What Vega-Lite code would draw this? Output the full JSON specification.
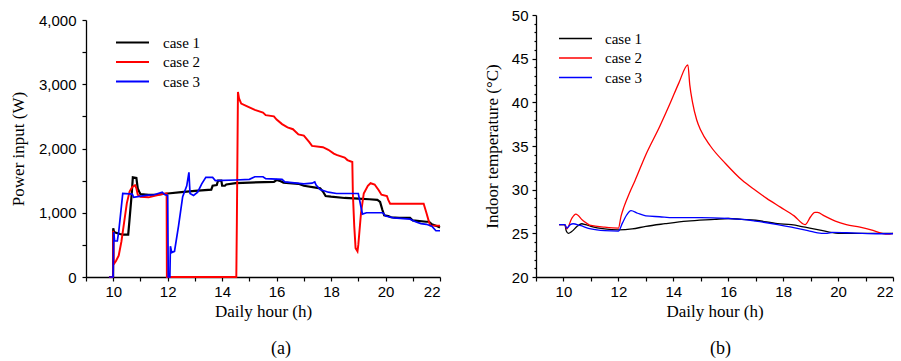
{
  "$schema": "https://vega.github.io/schema/vega-lite/v6.json",
  "padding": {"left": 9, "top": 8, "right": 1, "bottom": 5},
  "background": "white",
  "bounds": "flush",
  "spacing": 96,
  "datasets": {
    "power": [
      {"hour": 9.85, "case": "case 1", "value": 0}, {"hour": 9.995, "case": "case 1", "value": 0}, {"hour": 10.0, "case": "case 1", "value": 760}, {"hour": 10.03, "case": "case 1", "value": 700}, {"hour": 10.1, "case": "case 1", "value": 690}, {"hour": 10.25, "case": "case 1", "value": 670}, {"hour": 10.35, "case": "case 1", "value": 660}, {"hour": 10.55, "case": "case 1", "value": 660}, {"hour": 10.6, "case": "case 1", "value": 900}, {"hour": 10.68, "case": "case 1", "value": 1300}, {"hour": 10.72, "case": "case 1", "value": 1550}, {"hour": 10.85, "case": "case 1", "value": 1540}, {"hour": 10.9, "case": "case 1", "value": 1380}, {"hour": 10.95, "case": "case 1", "value": 1330}, {"hour": 11.0, "case": "case 1", "value": 1290}, {"hour": 11.3, "case": "case 1", "value": 1280}, {"hour": 11.6, "case": "case 1", "value": 1280}, {"hour": 12.0, "case": "case 1", "value": 1300}, {"hour": 12.5, "case": "case 1", "value": 1320}, {"hour": 13.0, "case": "case 1", "value": 1340}, {"hour": 13.6, "case": "case 1", "value": 1360}, {"hour": 13.65, "case": "case 1", "value": 1420}, {"hour": 13.8, "case": "case 1", "value": 1430}, {"hour": 13.85, "case": "case 1", "value": 1500}, {"hour": 13.97, "case": "case 1", "value": 1500}, {"hour": 14.0, "case": "case 1", "value": 1420}, {"hour": 14.1, "case": "case 1", "value": 1420}, {"hour": 14.15, "case": "case 1", "value": 1440}, {"hour": 14.5, "case": "case 1", "value": 1460}, {"hour": 15.0, "case": "case 1", "value": 1470}, {"hour": 15.9, "case": "case 1", "value": 1480}, {"hour": 16.0, "case": "case 1", "value": 1510}, {"hour": 16.15, "case": "case 1", "value": 1490}, {"hour": 16.25, "case": "case 1", "value": 1470}, {"hour": 16.8, "case": "case 1", "value": 1450}, {"hour": 17.0, "case": "case 1", "value": 1420}, {"hour": 17.6, "case": "case 1", "value": 1380}, {"hour": 17.7, "case": "case 1", "value": 1330}, {"hour": 17.8, "case": "case 1", "value": 1260}, {"hour": 18.0, "case": "case 1", "value": 1250}, {"hour": 18.5, "case": "case 1", "value": 1230}, {"hour": 19.0, "case": "case 1", "value": 1220}, {"hour": 19.4, "case": "case 1", "value": 1210}, {"hour": 19.7, "case": "case 1", "value": 1200}, {"hour": 19.8, "case": "case 1", "value": 1170}, {"hour": 19.88, "case": "case 1", "value": 1050}, {"hour": 19.95, "case": "case 1", "value": 960}, {"hour": 20.1, "case": "case 1", "value": 950}, {"hour": 20.2, "case": "case 1", "value": 930}, {"hour": 20.5, "case": "case 1", "value": 920}, {"hour": 20.9, "case": "case 1", "value": 920}, {"hour": 21.0, "case": "case 1", "value": 880}, {"hour": 21.5, "case": "case 1", "value": 860}, {"hour": 21.6, "case": "case 1", "value": 860}, {"hour": 21.7, "case": "case 1", "value": 820}, {"hour": 21.9, "case": "case 1", "value": 790}, {"hour": 22.0, "case": "case 1", "value": 770},
      {"hour": 9.85, "case": "case 2", "value": 0}, {"hour": 9.995, "case": "case 2", "value": 0}, {"hour": 10.0, "case": "case 2", "value": 720}, {"hour": 10.02, "case": "case 2", "value": 200}, {"hour": 10.1, "case": "case 2", "value": 250}, {"hour": 10.2, "case": "case 2", "value": 330}, {"hour": 10.3, "case": "case 2", "value": 550}, {"hour": 10.4, "case": "case 2", "value": 850}, {"hour": 10.5, "case": "case 2", "value": 1150}, {"hour": 10.6, "case": "case 2", "value": 1330}, {"hour": 10.7, "case": "case 2", "value": 1400}, {"hour": 10.8, "case": "case 2", "value": 1430}, {"hour": 10.85, "case": "case 2", "value": 1380}, {"hour": 10.9, "case": "case 2", "value": 1280}, {"hour": 11.0, "case": "case 2", "value": 1250}, {"hour": 11.3, "case": "case 2", "value": 1240}, {"hour": 11.6, "case": "case 2", "value": 1270}, {"hour": 11.8, "case": "case 2", "value": 1290}, {"hour": 11.96, "case": "case 2", "value": 1300}, {"hour": 11.97, "case": "case 2", "value": 0}, {"hour": 14.52, "case": "case 2", "value": 0}, {"hour": 14.54, "case": "case 2", "value": 850}, {"hour": 14.58, "case": "case 2", "value": 2880}, {"hour": 14.62, "case": "case 2", "value": 2780}, {"hour": 14.7, "case": "case 2", "value": 2700}, {"hour": 14.9, "case": "case 2", "value": 2660}, {"hour": 15.2, "case": "case 2", "value": 2600}, {"hour": 15.5, "case": "case 2", "value": 2560}, {"hour": 15.6, "case": "case 2", "value": 2520}, {"hour": 15.9, "case": "case 2", "value": 2500}, {"hour": 16.0, "case": "case 2", "value": 2450}, {"hour": 16.2, "case": "case 2", "value": 2380}, {"hour": 16.4, "case": "case 2", "value": 2330}, {"hour": 16.6, "case": "case 2", "value": 2300}, {"hour": 16.8, "case": "case 2", "value": 2220}, {"hour": 17.0, "case": "case 2", "value": 2200}, {"hour": 17.2, "case": "case 2", "value": 2100}, {"hour": 17.3, "case": "case 2", "value": 2040}, {"hour": 17.7, "case": "case 2", "value": 2020}, {"hour": 17.9, "case": "case 2", "value": 1980}, {"hour": 18.1, "case": "case 2", "value": 1920}, {"hour": 18.2, "case": "case 2", "value": 1900}, {"hour": 18.5, "case": "case 2", "value": 1860}, {"hour": 18.6, "case": "case 2", "value": 1820}, {"hour": 18.78, "case": "case 2", "value": 1790}, {"hour": 18.8, "case": "case 2", "value": 1300}, {"hour": 18.85, "case": "case 2", "value": 800}, {"hour": 18.9, "case": "case 2", "value": 450}, {"hour": 18.97, "case": "case 2", "value": 400}, {"hour": 19.0, "case": "case 2", "value": 500}, {"hour": 19.1, "case": "case 2", "value": 1000}, {"hour": 19.2, "case": "case 2", "value": 1300}, {"hour": 19.35, "case": "case 2", "value": 1420}, {"hour": 19.45, "case": "case 2", "value": 1460}, {"hour": 19.6, "case": "case 2", "value": 1440}, {"hour": 19.75, "case": "case 2", "value": 1350}, {"hour": 19.85, "case": "case 2", "value": 1280}, {"hour": 20.05, "case": "case 2", "value": 1260}, {"hour": 20.1, "case": "case 2", "value": 1200}, {"hour": 20.17, "case": "case 2", "value": 1140}, {"hour": 20.5, "case": "case 2", "value": 1140}, {"hour": 21.0, "case": "case 2", "value": 1140}, {"hour": 21.4, "case": "case 2", "value": 1140}, {"hour": 21.5, "case": "case 2", "value": 1000}, {"hour": 21.6, "case": "case 2", "value": 850}, {"hour": 21.65, "case": "case 2", "value": 800}, {"hour": 22.0, "case": "case 2", "value": 800},
      {"hour": 9.85, "case": "case 3", "value": 0}, {"hour": 9.995, "case": "case 3", "value": 0}, {"hour": 10.02, "case": "case 3", "value": 700}, {"hour": 10.05, "case": "case 3", "value": 560}, {"hour": 10.15, "case": "case 3", "value": 560}, {"hour": 10.2, "case": "case 3", "value": 700}, {"hour": 10.3, "case": "case 3", "value": 1100}, {"hour": 10.35, "case": "case 3", "value": 1300}, {"hour": 10.7, "case": "case 3", "value": 1290}, {"hour": 10.75, "case": "case 3", "value": 1240}, {"hour": 10.9, "case": "case 3", "value": 1250}, {"hour": 11.2, "case": "case 3", "value": 1270}, {"hour": 11.5, "case": "case 3", "value": 1280}, {"hour": 11.8, "case": "case 3", "value": 1320}, {"hour": 11.9, "case": "case 3", "value": 1280}, {"hour": 12.0, "case": "case 3", "value": 1270}, {"hour": 12.02, "case": "case 3", "value": 0}, {"hour": 12.08, "case": "case 3", "value": 0}, {"hour": 12.1, "case": "case 3", "value": 480}, {"hour": 12.15, "case": "case 3", "value": 380}, {"hour": 12.25, "case": "case 3", "value": 400}, {"hour": 12.4, "case": "case 3", "value": 800}, {"hour": 12.55, "case": "case 3", "value": 1250}, {"hour": 12.7, "case": "case 3", "value": 1420}, {"hour": 12.78, "case": "case 3", "value": 1630}, {"hour": 12.82, "case": "case 3", "value": 1300}, {"hour": 12.95, "case": "case 3", "value": 1270}, {"hour": 13.1, "case": "case 3", "value": 1320}, {"hour": 13.25, "case": "case 3", "value": 1450}, {"hour": 13.4, "case": "case 3", "value": 1550}, {"hour": 13.65, "case": "case 3", "value": 1550}, {"hour": 13.75, "case": "case 3", "value": 1500}, {"hour": 14.5, "case": "case 3", "value": 1510}, {"hour": 15.0, "case": "case 3", "value": 1520}, {"hour": 15.2, "case": "case 3", "value": 1560}, {"hour": 15.5, "case": "case 3", "value": 1560}, {"hour": 15.6, "case": "case 3", "value": 1530}, {"hour": 16.2, "case": "case 3", "value": 1520}, {"hour": 16.3, "case": "case 3", "value": 1480}, {"hour": 17.0, "case": "case 3", "value": 1450}, {"hour": 17.3, "case": "case 3", "value": 1460}, {"hour": 17.4, "case": "case 3", "value": 1480}, {"hour": 17.45, "case": "case 3", "value": 1430}, {"hour": 17.6, "case": "case 3", "value": 1360}, {"hour": 17.9, "case": "case 3", "value": 1320}, {"hour": 18.2, "case": "case 3", "value": 1300}, {"hour": 19.0, "case": "case 3", "value": 1300}, {"hour": 19.15, "case": "case 3", "value": 980}, {"hour": 19.3, "case": "case 3", "value": 1000}, {"hour": 19.9, "case": "case 3", "value": 1000}, {"hour": 20.0, "case": "case 3", "value": 950}, {"hour": 20.3, "case": "case 3", "value": 920}, {"hour": 20.9, "case": "case 3", "value": 900}, {"hour": 21.1, "case": "case 3", "value": 860}, {"hour": 21.3, "case": "case 3", "value": 830}, {"hour": 21.5, "case": "case 3", "value": 820}, {"hour": 21.7, "case": "case 3", "value": 790}, {"hour": 21.85, "case": "case 3", "value": 720}, {"hour": 22.0, "case": "case 3", "value": 720}
    ],
    "temp": [
      {"hour": 9.84, "case": "case 1", "value": 26}, {"hour": 10.05, "case": "case 1", "value": 26}, {"hour": 10.1, "case": "case 1", "value": 25.3}, {"hour": 10.18, "case": "case 1", "value": 25}, {"hour": 10.3, "case": "case 1", "value": 25.2}, {"hour": 10.5, "case": "case 1", "value": 25.8}, {"hour": 10.67, "case": "case 1", "value": 26.1}, {"hour": 10.8, "case": "case 1", "value": 26}, {"hour": 11.0, "case": "case 1", "value": 25.8}, {"hour": 11.5, "case": "case 1", "value": 25.5}, {"hour": 12.0, "case": "case 1", "value": 25.4}, {"hour": 12.5, "case": "case 1", "value": 25.5}, {"hour": 13.0, "case": "case 1", "value": 25.8}, {"hour": 13.7, "case": "case 1", "value": 26.1}, {"hour": 14.5, "case": "case 1", "value": 26.4}, {"hour": 15.5, "case": "case 1", "value": 26.6}, {"hour": 16.0, "case": "case 1", "value": 26.7}, {"hour": 16.5, "case": "case 1", "value": 26.6}, {"hour": 17.0, "case": "case 1", "value": 26.5}, {"hour": 17.8, "case": "case 1", "value": 26.1}, {"hour": 18.3, "case": "case 1", "value": 26.0}, {"hour": 18.8, "case": "case 1", "value": 25.7}, {"hour": 19.3, "case": "case 1", "value": 25.4}, {"hour": 20.0, "case": "case 1", "value": 25.0}, {"hour": 21.0, "case": "case 1", "value": 25.0}, {"hour": 22.0, "case": "case 1", "value": 25.0},
      {"hour": 9.84, "case": "case 2", "value": 26}, {"hour": 10.05, "case": "case 2", "value": 26}, {"hour": 10.12, "case": "case 2", "value": 25.5}, {"hour": 10.3, "case": "case 2", "value": 26.7}, {"hour": 10.45, "case": "case 2", "value": 27.2}, {"hour": 10.7, "case": "case 2", "value": 26.5}, {"hour": 11.0, "case": "case 2", "value": 25.9}, {"hour": 11.5, "case": "case 2", "value": 25.7}, {"hour": 12.0, "case": "case 2", "value": 25.6}, {"hour": 12.1, "case": "case 2", "value": 27}, {"hour": 12.2, "case": "case 2", "value": 28}, {"hour": 12.4, "case": "case 2", "value": 29.6}, {"hour": 12.6, "case": "case 2", "value": 31}, {"hour": 13.0, "case": "case 2", "value": 34}, {"hour": 13.5, "case": "case 2", "value": 37.2}, {"hour": 13.9, "case": "case 2", "value": 40}, {"hour": 14.2, "case": "case 2", "value": 42.2}, {"hour": 14.53, "case": "case 2", "value": 44.3}, {"hour": 14.6, "case": "case 2", "value": 42}, {"hour": 14.7, "case": "case 2", "value": 40}, {"hour": 14.85, "case": "case 2", "value": 38}, {"hour": 15.0, "case": "case 2", "value": 36.8}, {"hour": 15.35, "case": "case 2", "value": 35}, {"hour": 15.9, "case": "case 2", "value": 33}, {"hour": 16.5, "case": "case 2", "value": 31.1}, {"hour": 17.0, "case": "case 2", "value": 29.9}, {"hour": 17.4, "case": "case 2", "value": 29}, {"hour": 17.9, "case": "case 2", "value": 28}, {"hour": 18.4, "case": "case 2", "value": 27}, {"hour": 18.8, "case": "case 2", "value": 26}, {"hour": 19.0, "case": "case 2", "value": 26.9}, {"hour": 19.15, "case": "case 2", "value": 27.4}, {"hour": 19.25, "case": "case 2", "value": 27.4}, {"hour": 19.5, "case": "case 2", "value": 27.0}, {"hour": 19.9, "case": "case 2", "value": 26.4}, {"hour": 20.3, "case": "case 2", "value": 26.0}, {"hour": 20.8, "case": "case 2", "value": 25.7}, {"hour": 21.2, "case": "case 2", "value": 25.4}, {"hour": 21.6, "case": "case 2", "value": 25.0}, {"hour": 21.8, "case": "case 2", "value": 24.9}, {"hour": 22.0, "case": "case 2", "value": 25.0},
      {"hour": 9.84, "case": "case 3", "value": 26}, {"hour": 10.05, "case": "case 3", "value": 26}, {"hour": 10.12, "case": "case 3", "value": 25.6}, {"hour": 10.25, "case": "case 3", "value": 26.0}, {"hour": 10.35, "case": "case 3", "value": 26.1}, {"hour": 10.6, "case": "case 3", "value": 25.9}, {"hour": 11.0, "case": "case 3", "value": 25.5}, {"hour": 11.5, "case": "case 3", "value": 25.3}, {"hour": 12.0, "case": "case 3", "value": 25.25}, {"hour": 12.15, "case": "case 3", "value": 26.2}, {"hour": 12.3, "case": "case 3", "value": 27.1}, {"hour": 12.46, "case": "case 3", "value": 27.6}, {"hour": 12.7, "case": "case 3", "value": 27.3}, {"hour": 13.0, "case": "case 3", "value": 27.0}, {"hour": 13.5, "case": "case 3", "value": 26.9}, {"hour": 14.0, "case": "case 3", "value": 26.8}, {"hour": 15.0, "case": "case 3", "value": 26.8}, {"hour": 16.0, "case": "case 3", "value": 26.7}, {"hour": 16.5, "case": "case 3", "value": 26.6}, {"hour": 17.0, "case": "case 3", "value": 26.4}, {"hour": 17.8, "case": "case 3", "value": 26.0}, {"hour": 18.3, "case": "case 3", "value": 25.7}, {"hour": 18.9, "case": "case 3", "value": 25.3}, {"hour": 19.4, "case": "case 3", "value": 25.0}, {"hour": 19.6, "case": "case 3", "value": 25.0}, {"hour": 19.8, "case": "case 3", "value": 25.1}, {"hour": 20.5, "case": "case 3", "value": 25.05}, {"hour": 21.5, "case": "case 3", "value": 24.95}, {"hour": 22.0, "case": "case 3", "value": 24.95}
    ]
  },
  "hconcat": [
    {
      "width": 354,
      "height": 262,
      "data": {"name": "power"},
      "title": {"text": "(a)", "orient": "bottom", "offset": 21, "dx": 18, "font": "Liberation Serif", "fontSize": 18, "fontWeight": "normal", "color": "black"},
      "mark": {"type": "line", "interpolate": "linear"},
      "encoding": {
        "x": {"field": "hour", "type": "quantitative", "scale": {"domain": [9, 22], "nice": false, "zero": false},
          "axis": {"title": "Daily hour (h)", "values": [9, 10, 11, 12, 13, 14, 15, 16, 17, 18, 19, 20, 21, 22], "format": ".0f",
            "labelExpr": "datum.value % 2 == 0 ? datum.label : ''", "tickSize": 4, "labelPadding": 3, "titlePadding": 4}},
        "y": {"field": "value", "type": "quantitative", "scale": {"domain": [0, 4000], "nice": false, "range": [262, 5]},
          "axis": {"title": "Power input (W)", "values": [0, 500, 1000, 1500, 2000, 2500, 3000, 3500, 4000], "format": ",.0f",
            "labelExpr": "datum.value % 1000 == 0 ? datum.label : ''", "tickSize": 4, "labelPadding": 6, "titlePadding": 11}},
        "color": {"field": "case", "type": "nominal", "scale": {"domain": ["case 1", "case 2", "case 3"], "range": ["#000000", "#ff0000", "#0000ff"]},
          "legend": {"title": null, "orient": "none", "legendX": 39, "legendY": 20, "symbolType": "M-3,0H3", "symbolSize": 121, "symbolStrokeWidth": 1.8, "labelOffset": 23,
            "labelFont": "Liberation Serif", "labelFontSize": 15, "labelFontWeight": "normal", "labelColor": "black", "rowPadding": 3.5, "padding": 0}},
        "strokeWidth": {"field": "case", "type": "nominal", "scale": {"domain": ["case 1", "case 2", "case 3"], "range": [2.2, 1.7, 1.2]}, "legend": null}
      }
    },
    {
      "width": 357,
      "height": 262,
      "data": {"name": "temp"},
      "title": {"text": "(b)", "orient": "bottom", "offset": 21, "dx": 6, "font": "Liberation Serif", "fontSize": 18, "fontWeight": "normal", "color": "black"},
      "mark": {"type": "line", "interpolate": "monotone", "strokeWidth": 1.3},
      "encoding": {
        "x": {"field": "hour", "type": "quantitative", "scale": {"domain": [9, 22], "nice": false, "zero": false},
          "axis": {"title": "Daily hour (h)", "values": [9, 10, 11, 12, 13, 14, 15, 16, 17, 18, 19, 20, 21, 22], "format": ".0f",
            "labelExpr": "datum.value % 2 == 0 ? datum.label : ''", "tickSize": 4, "labelPadding": 3, "titlePadding": 4}},
        "y": {"field": "value", "type": "quantitative", "scale": {"domain": [20, 50], "nice": false, "zero": false},
          "axis": {"title": "Indoor temperature (°C)", "values": [20, 21, 22, 23, 24, 25, 26, 27, 28, 29, 30, 31, 32, 33, 34, 35, 36, 37, 38, 39, 40, 41, 42, 43, 44, 45, 46, 47, 48, 49, 50], "format": ".0f",
            "labelExpr": "datum.value % 5 == 0 ? datum.label : ''",
            "tickSize": {"condition": {"test": "datum.value % 5 == 0", "value": 4}, "value": 2},
            "labelPadding": 4, "titlePadding": 10}},
        "color": {"field": "case", "type": "nominal", "scale": {"domain": ["case 1", "case 2", "case 3"], "range": ["#000000", "#ff0000", "#0000ff"]},
          "legend": {"title": null, "orient": "none", "legendX": 32, "legendY": 16, "symbolType": "M-3,0H3", "symbolSize": 121, "symbolStrokeWidth": 1.3, "labelOffset": 22,
            "labelFont": "Liberation Serif", "labelFontSize": 15, "labelFontWeight": "normal", "labelColor": "black", "rowPadding": 3.5, "padding": 0}}
      }
    }
  ],
  "resolve": {"scale": {"y": "independent", "x": "independent"}, "legend": {"color": "independent"}},
  "config": {
    "view": {"stroke": null},
    "axis": {"grid": false, "domainColor": "black", "tickColor": "black", "labelColor": "black", "titleColor": "black",
      "domainWidth": 1.3, "tickWidth": 1.2, "labelFont": "Liberation Sans", "labelFontSize": 15,
      "titleFont": "Liberation Serif", "titleFontSize": 17, "titleFontWeight": "normal"}
  }
}
